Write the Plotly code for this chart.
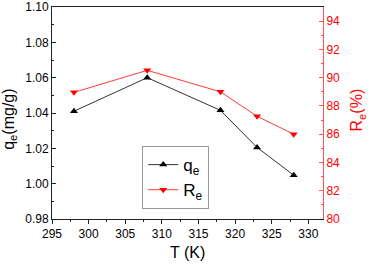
import plotly.graph_objects as go

temperature = [298, 308, 318, 323, 328]
qe_values = [1.041, 1.060, 1.0415, 1.0205, 1.0048]
re_values = [88.96, 90.52, 89.0, 87.27, 86.0]

fig = go.Figure()
fig.add_trace(go.Scatter(
    x=temperature, y=qe_values, name="q<sub>e</sub>", mode="lines+markers",
    line=dict(color="#333333", width=1),
    marker=dict(symbol="triangle-up", color="black", size=7),
))
fig.add_trace(go.Scatter(
    x=temperature, y=re_values, name="R<sub>e</sub>", mode="lines+markers",
    yaxis="y2",
    line=dict(color="#ff3b3b", width=1),
    marker=dict(symbol="triangle-down", color="#ff0000", size=7),
))

font_family = "Liberation Sans, Arial, sans-serif"
fig.update_layout(
    width=368, height=264,
    margin=dict(l=52, r=45, t=7, b=45, autoexpand=False),
    paper_bgcolor="white", plot_bgcolor="white",
    font=dict(family=font_family, size=12, color="black"),
    showlegend=True,
    legend=dict(
        x=0.333, y=0.344, xanchor="left", yanchor="top",
        bordercolor="#999999", borderwidth=1, bgcolor="white",
        font=dict(size=17), itemwidth=30, tracegroupgap=0,
    ),
    xaxis=dict(
        range=[295, 332], dtick=5, tick0=295,
        showline=True, linecolor="#222222", linewidth=1, mirror=True,
        ticks="outside", ticklen=4, tickcolor="#222222",
        minor=dict(dtick=2.5, ticks="outside", ticklen=2, tickcolor="#222222"),
        showgrid=False, zeroline=False, automargin=False,
    ),
    yaxis=dict(
        range=[0.98, 1.10], dtick=0.02, tick0=0.98, tickformat=".2f",
        showline=True, linecolor="#222222", linewidth=1,
        ticks="inside", ticklen=4, tickcolor="#222222",
        minor=dict(dtick=0.01, ticks="inside", ticklen=2, tickcolor="#222222"),
        showgrid=False, zeroline=False, automargin=False,
    ),
    yaxis2=dict(
        range=[80, 95], dtick=2, tick0=80, overlaying="y", side="right",
        showline=True, linecolor="#ff5555", linewidth=1,
        ticks="inside", ticklen=4, tickcolor="#ff5555",
        minor=dict(dtick=1, ticks="inside", ticklen=2, tickcolor="#ff5555"),
        tickfont=dict(color="#ff0000"),
        showgrid=False, zeroline=False, automargin=False,
    ),
    annotations=[
        dict(text="T (K)", xref="paper", yref="paper", x=0.5, y=-0.16,
             xanchor="center", yanchor="middle", showarrow=False,
             font=dict(size=16, color="black")),
        dict(text="q<sub>e</sub>(mg/g)", xref="paper", yref="paper", x=-0.157, y=0.47,
             xanchor="center", yanchor="middle", textangle=-90, showarrow=False,
             font=dict(size=16, color="black")),
        dict(text="R<sub>e</sub>(%)", xref="paper", yref="paper", x=1.127, y=0.514,
             xanchor="center", yanchor="middle", textangle=-90, showarrow=False,
             font=dict(size=16, color="#ff0000")),
    ],
)

fig.write_html(
    "out.html",
    config={"displayModeBar": False},
    post_script="document.body.style.margin='0';document.body.style.overflow='hidden';",
)
